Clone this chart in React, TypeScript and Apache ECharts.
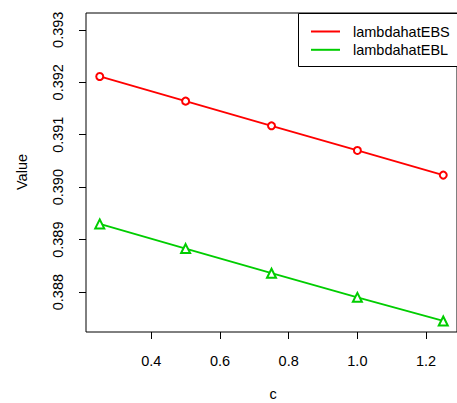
import React, { useEffect, useRef } from "react";
import * as echarts from "echarts";

const cValues = [0.25, 0.5, 0.75, 1.0, 1.25];
const ebsValues = [0.39211, 0.39164, 0.39117, 0.3907, 0.39023];
const eblValues = [0.3893, 0.38883, 0.38836, 0.3879, 0.38745];
const xTicks = [0.4, 0.6, 0.8, 1.0, 1.2];
const yTicks = [0.388, 0.389, 0.39, 0.391, 0.392, 0.393];
const seriesNames = ["lambdahatEBS", "lambdahatEBL"];

const FONT = "'Liberation Sans', Arial, Helvetica, sans-serif";
const FS = 14.5;

export default function App() {
  const ref = useRef<HTMLDivElement>(null);
  useEffect(() => {
    if (!ref.current) return;
    const chart = echarts.init(ref.current, undefined, { renderer: "svg" });
    chart.setOption({
      animation: false,
      backgroundColor: "#ffffff",
      textStyle: { fontFamily: FONT },
      grid: {
        left: 86,
        top: 13,
        right: -4,
        bottom: 71,
        show: true,
        borderColor: "#000",
        borderWidth: 1,
        backgroundColor: "transparent",
      },
      xAxis: {
        type: "value",
        min: 0.21,
        max: 1.29,
        axisLine: { show: false },
        splitLine: { show: false },
        axisTick: {
          show: true,
          inside: false,
          length: 7,
          customValues: xTicks,
          lineStyle: { color: "#000", width: 1 },
        },
        axisLabel: {
          customValues: xTicks,
          formatter: (v: number) => v.toFixed(1),
          color: "#000",
          fontSize: FS,
          fontFamily: FONT,
          margin: 21,
        },
      },
      yAxis: {
        type: "value",
        min: 0.38724,
        max: 0.39332,
        axisLine: { show: false },
        splitLine: { show: false },
        axisTick: {
          show: true,
          inside: false,
          length: 7,
          customValues: yTicks,
          lineStyle: { color: "#000", width: 1 },
        },
        axisLabel: {
          customValues: yTicks,
          formatter: (v: number) => v.toFixed(3),
          color: "#000",
          fontSize: FS,
          fontFamily: FONT,
          rotate: 90,
          margin: 21,
        },
      },
      legend: {
        orient: "vertical",
        left: 311,
        top: 24,
        padding: 0,
        itemWidth: 29,
        itemHeight: 2,
        itemGap: 3.3,
        icon: "rect",
        z: 10,
        textStyle: {
          fontSize: FS,
          lineHeight: 15,
          color: "#000",
          fontFamily: FONT,
          padding: [0, 0, 0, 8],
        },
        data: seriesNames,
      },
      graphic: [
        {
          type: "rect",
          z: 5,
          shape: { x: 298.5, y: 13.5, width: 200, height: 53 },
          style: { fill: "#fff", stroke: "#000", lineWidth: 1 },
        },
        {
          type: "text",
          x: 273,
          y: 394,
          style: {
            text: "c",
            fontSize: FS,
            fontFamily: FONT,
            fill: "#000",
            align: "center",
            verticalAlign: "middle",
          },
        },
        {
          type: "text",
          x: 22,
          y: 172,
          rotation: Math.PI / 2,
          style: {
            text: "Value",
            fontSize: FS,
            fontFamily: FONT,
            fill: "#000",
            align: "center",
            verticalAlign: "middle",
          },
        },
      ],
      series: [
        {
          name: seriesNames[0],
          type: "line",
          data: cValues.map((c, i) => [c, ebsValues[i]]),
          color: "#FF0000",
          lineStyle: { width: 1.8, color: "#FF0000" },
          symbol: "emptyCircle",
          symbolSize: 7,
          itemStyle: { color: "#FF0000", borderWidth: 1.6 },
        },
        {
          name: seriesNames[1],
          type: "line",
          data: cValues.map((c, i) => [c, eblValues[i]]),
          color: "#00CD00",
          lineStyle: { width: 1.8, color: "#00CD00" },
          symbol: "emptyTriangle",
          symbolSize: 9,
          itemStyle: { color: "#00CD00", borderWidth: 1.6 },
        },
      ],
    });
    return () => chart.dispose();
  }, []);
  return (
    <div
      ref={ref}
      style={{ position: "fixed", left: 0, top: 0, width: 457, height: 403 }}
    />
  );
}
